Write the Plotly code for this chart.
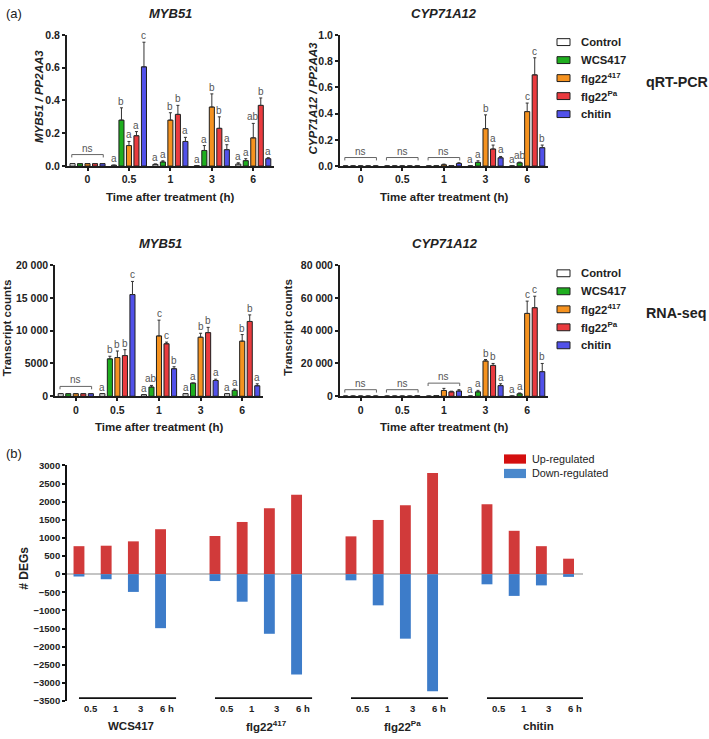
import plotly.graph_objects as go

W, H = 709, 739
FONT = "Liberation Sans, Arial, sans-serif"
DARK = "#1e1e1e"

# ---------------- data: panel (a) ----------------
times = ["0", "0.5", "1", "3", "6"]
series_names = ["Control", "WCS417", "flg22<sup>417</sup>", "flg22<sup>Pa</sup>", "chitin"]
series_colors = ["#ffffff", "#1fae1f", "#f5921f", "#ea3b3f", "#5151e9"]

# qRT-PCR, MYB51 / PP2AA3 (rows = series, cols = time points)
myb51_qpcr_mean = [
    [0.015, 0.005, 0.010, 0.002, 0.012],
    [0.015, 0.280, 0.025, 0.095, 0.033],
    [0.015, 0.125, 0.280, 0.360, 0.172],
    [0.015, 0.185, 0.315, 0.230, 0.370],
    [0.015, 0.605, 0.150, 0.100, 0.045],
]
myb51_qpcr_err = [
    [0, 0, 0.003, 0, 0.008],
    [0, 0.075, 0.007, 0.030, 0.012],
    [0, 0.025, 0.045, 0.080, 0.088],
    [0, 0.025, 0.055, 0.070, 0.045],
    [0, 0.150, 0.025, 0.030, 0.006],
]
myb51_qpcr_letters = [
    ["", "a", "a", "a", "a"],
    ["", "b", "a", "a", "a"],
    ["", "a", "b", "b", "ab"],
    ["", "a", "b", "b", "b"],
    ["", "c", "a", "a", "a"],
]
myb51_qpcr_ticks = [0, 0.2, 0.4, 0.6, 0.8]
myb51_qpcr_ticktext = ["0.0", "0.2", "0.4", "0.6", "0.8"]
myb51_qpcr_ns = [(0, 0.07)]

# qRT-PCR, CYP71A12 / PP2AA3
cyp_qpcr_mean = [
    [0.001, 0.001, 0.001, 0.001, 0.001],
    [0.001, 0.001, 0.002, 0.028, 0.025],
    [0.001, 0.001, 0.010, 0.285, 0.415],
    [0.001, 0.001, 0.003, 0.130, 0.695],
    [0.001, 0.001, 0.020, 0.063, 0.140],
]
cyp_qpcr_err = [
    [0, 0, 0, 0, 0],
    [0, 0, 0, 0.012, 0.005],
    [0, 0, 0.005, 0.105, 0.065],
    [0, 0, 0, 0.030, 0.130],
    [0, 0, 0.005, 0.010, 0.020],
]
cyp_qpcr_letters = [
    ["", "", "", "a", "a"],
    ["", "", "", "a", "ab"],
    ["", "", "", "b", "c"],
    ["", "", "", "a", "c"],
    ["", "", "", "a", "b"],
]
cyp_qpcr_ticks = [0, 0.2, 0.4, 0.6, 0.8, 1.0]
cyp_qpcr_ticktext = ["0.0", "0.2", "0.4", "0.6", "0.8", "1.0"]
cyp_qpcr_ns = [(0, 0.065), (1, 0.065), (2, 0.065)]

# RNA-seq, MYB51 transcript counts
myb51_rna_mean = [
    [400, 400, 250, 400, 400],
    [400, 5700, 1400, 2000, 900],
    [400, 5900, 9200, 9000, 8400],
    [400, 6200, 8000, 9700, 11400],
    [400, 15500, 4200, 2400, 1600],
]
myb51_rna_err = [
    [0, 0, 0, 0, 0],
    [0, 400, 250, 0, 200],
    [0, 1000, 2400, 600, 1000],
    [0, 900, 250, 800, 1000],
    [0, 2000, 300, 200, 300],
]
myb51_rna_letters = [
    ["", "a", "a", "a", "a"],
    ["", "b", "ab", "a", "a"],
    ["", "b", "c", "b", "b"],
    ["", "b", "c", "b", "b"],
    ["", "c", "b", "a", "a"],
]
myb51_rna_ticks = [0, 5000, 10000, 15000, 20000]
myb51_rna_ticktext = ["0", "5000", "10 000", "15 000", "20 000"]
myb51_rna_ns = [(0, 1500)]

# RNA-seq, CYP71A12 transcript counts
cyp_rna_mean = [
    [100, 100, 100, 100, 100],
    [100, 100, 400, 2700, 1500],
    [100, 100, 3500, 21500, 50500],
    [100, 100, 2700, 18800, 54000],
    [100, 300, 3200, 6500, 15000],
]
cyp_rna_err = [
    [0, 0, 0, 0, 0],
    [0, 0, 0, 900, 500],
    [0, 0, 1300, 900, 7500],
    [0, 0, 400, 1200, 7000],
    [0, 0, 800, 1100, 5000],
]
cyp_rna_letters = [
    ["", "", "", "a", "a"],
    ["", "", "", "a", "a"],
    ["", "", "", "b", "c"],
    ["", "", "", "b", "c"],
    ["", "", "", "a", "b"],
]
cyp_rna_ticks = [0, 20000, 40000, 60000, 80000]
cyp_rna_ticktext = ["0", "20 000", "40 000", "60 000", "80 000"]
cyp_rna_ns = [(0, 4000), (1, 4000), (2, 8000)]

# ---------------- data: panel (b) ----------------
b_treatments = ["WCS417", "flg22<sup>417</sup>", "flg22<sup>Pa</sup>", "chitin"]
b_times = ["0.5", "1", "3", "6 h"]
b_up = [
    [772, 785, 905, 1240],
    [1052, 1440, 1820, 2193],
    [1043, 1495, 1900, 2790],
    [1928, 1196, 772, 427],
]
b_down = [
    [-65, -140, -490, -1490],
    [-190, -760, -1645, -2770],
    [-170, -860, -1780, -3230],
    [-280, -600, -310, -75],
]
b_series = ["Up-regulated", "Down-regulated"]
b_colors = ["#d13a3a", "#3d7cc9"]
b_legend_colors = ["#d40f0f", "#4a88cc"]


def px(x):
    return x / W


def py(y):
    return 1 - y / H


def paper_text(x, y, text, size, xanchor="center", yanchor="middle", angle=0, color="#222222"):
    return dict(x=px(x), y=py(y), xref="paper", yref="paper", text=text, showarrow=False,
                xanchor=xanchor, yanchor=yanchor, textangle=angle,
                font=dict(family=FONT, size=size, color=color))


fig = go.Figure()
annotations = []
shapes = []

panels = [
    dict(mean=myb51_qpcr_mean, err=myb51_qpcr_err, letters=myb51_qpcr_letters,
         ticks=myb51_qpcr_ticks, ticktext=myb51_qpcr_ticktext, ns=myb51_qpcr_ns,
         xdom=(66.8, 274.0), ydom=(29.3, 162.7), ymax=0.8,
         title="MYB51", tx=170, ty=8,
         ytitle="MYB51 / PP2AA3", ytx=38.5, yty=92, italic=True, xtx=170, xty=194),
    dict(mean=cyp_qpcr_mean, err=cyp_qpcr_err, letters=cyp_qpcr_letters,
         ticks=cyp_qpcr_ticks, ticktext=cyp_qpcr_ticktext, ns=cyp_qpcr_ns,
         xdom=(339.8, 548.0), ydom=(29.3, 162.7), ymax=1.0,
         title="CYP71A12", tx=444, ty=8,
         ytitle="CYP71A12 / PP2AA3", ytx=313, yty=94, italic=True, xtx=444, xty=194),
    dict(mean=myb51_rna_mean, err=myb51_rna_err, letters=myb51_rna_letters,
         ticks=myb51_rna_ticks, ticktext=myb51_rna_ticktext, ns=myb51_rna_ns,
         xdom=(55.0, 263.0), ydom=(263.3, 396.7), ymax=20000,
         title="MYB51", tx=160, ty=241,
         ytitle="Transcript counts", ytx=6.5, yty=327, italic=False, xtx=159, xty=428),
    dict(mean=cyp_rna_mean, err=cyp_rna_err, letters=cyp_rna_letters,
         ticks=cyp_rna_ticks, ticktext=cyp_rna_ticktext, ns=cyp_rna_ns,
         xdom=(339.8, 548.0), ydom=(263.3, 396.7), ymax=80000,
         title="CYP71A12", tx=445, ty=241,
         ytitle="Transcript counts", ytx=288, yty=327, italic=False, xtx=444, xty=428),
]

n_series = len(series_names)
pitch = 0.181
bw = 0.122
idx = list(range(len(times)))

layout_axes = {}
for p, pan in enumerate(panels):
    k = p + 1
    xa = "x" if k == 1 else f"x{k}"
    ya = "y" if k == 1 else f"y{k}"
    for i in range(n_series):
        off = (i - (n_series - 1) / 2) * pitch
        errs = [e if e > 0 else None for e in pan["err"][i]]
        fig.add_trace(go.Bar(
            x=idx, y=pan["mean"][i], width=bw, offset=off - bw / 2,
            marker=dict(color=series_colors[i], line=dict(color=DARK, width=1)),
            error_y=dict(type="data", symmetric=False, array=errs,
                         arrayminus=[0] * len(idx), color="#333333",
                         thickness=1, width=1.5),
            xaxis=xa, yaxis=ya, showlegend=False, name=series_names[i],
        ))
        for j, lab in enumerate(pan["letters"][i]):
            if not lab:
                continue
            top = pan["mean"][i][j] + pan["err"][i][j]
            annotations.append(dict(
                x=j + off, y=top, xref=xa, yref=ya, text=lab, showarrow=False,
                yanchor="bottom", xanchor="center", yshift=-1,
                font=dict(family=FONT, size=10, color="#555555")))
    # ns brackets
    drop = 0.022 * pan["ymax"]
    for g, lvl in pan["ns"]:
        x0, x1 = g - 0.38, g + 0.38
        shapes.append(dict(type="path", xref=xa, yref=ya,
                           path=f"M {x0},{lvl - drop} L {x0},{lvl} L {x1},{lvl} L {x1},{lvl - drop}",
                           line=dict(color="#666666", width=1)))
        annotations.append(dict(x=g, y=lvl, xref=xa, yref=ya, text="ns", showarrow=False,
                                yanchor="bottom", xanchor="center", yshift=-1,
                                font=dict(family=FONT, size=10, color="#555555")))
    axis_common = dict(showline=True, linecolor=DARK, linewidth=1.5, ticks="outside",
                       ticklen=3, tickwidth=1.5, tickcolor=DARK, showgrid=False,
                       zeroline=False, fixedrange=True,
                       tickfont=dict(family=FONT, size=10.5, color="#222222", weight="bold"))
    layout_axes["xaxis" if k == 1 else f"xaxis{k}"] = dict(
        domain=[px(pan["xdom"][0]), px(pan["xdom"][1])], range=[-0.5, 4.5],
        anchor=ya, tickvals=idx, ticktext=times, **axis_common)
    layout_axes["yaxis" if k == 1 else f"yaxis{k}"] = dict(
        domain=[py(pan["ydom"][1]), py(pan["ydom"][0])], range=[0, pan["ymax"]],
        anchor=xa, tickvals=pan["ticks"], ticktext=pan["ticktext"], **axis_common)
    # titles
    annotations.append(paper_text(pan["tx"], pan["ty"], f"<b><i>{pan['title']}</i></b>", 13))
    yt = f"<b><i>{pan['ytitle']}</i></b>" if pan["italic"] else f"<b>{pan['ytitle']}</b>"
    annotations.append(paper_text(pan["ytx"], pan["yty"], yt, 11.5, angle=-90))
    annotations.append(paper_text(pan["xtx"], pan["xty"], "<b>Time after treatment (h)</b>", 11.5))

# legends for panel (a)
for top_y, tag in [(36.7, "qRT-PCR"), (271.7, "RNA-seq")]:
    for i, name in enumerate(series_names):
        cy = top_y + i * 18.3
        shapes.append(dict(type="rect", xref="paper", yref="paper",
                           x0=px(557), x1=px(570), y0=py(cy + 3.5), y1=py(cy - 3.5),
                           fillcolor=series_colors[i], line=dict(color=DARK, width=1)))
        annotations.append(paper_text(579, cy, f"<b>{name}</b>", 11.3, xanchor="left"))
    annotations.append(paper_text(644, top_y + 2 * 18.3 + 4, f"<b>{tag}</b>", 14.3, xanchor="left"))

# ---------------- panel (b) ----------------
bx = []
bu = []
bd = []
for g in range(len(b_treatments)):
    for t in range(len(b_times)):
        bx.append(g * (len(b_times) + 1) + t)
        bu.append(b_up[g][t])
        bd.append(b_down[g][t])

for vals, col, nm in [(bu, b_colors[0], b_series[0]), (bd, b_colors[1], b_series[1])]:
    fig.add_trace(go.Bar(x=bx, y=vals, width=0.4, offset=-0.2,
                         marker=dict(color=col, line=dict(width=0)),
                         xaxis="x5", yaxis="y5", showlegend=False, name=nm))

layout_axes["xaxis5"] = dict(domain=[px(67), px(583)], range=[-0.44, 18.53], anchor="y5",
                             showline=False, showticklabels=False, ticks="",
                             showgrid=False, zeroline=False, fixedrange=True)
layout_axes["yaxis5"] = dict(domain=[py(706.5), py(467)], range=[-3500, 3000], anchor="x5",
                             tickvals=list(range(-3500, 3001, 500)), showline=True,
                             linecolor="#111111", linewidth=1.8, ticks="outside", ticklen=3,
                             tickwidth=1.5, tickcolor="#111111", showgrid=False,
                             zeroline=True, zerolinecolor="#c4c4c4", zerolinewidth=1.5,
                             fixedrange=True,
                             tickfont=dict(family=FONT, size=9.5, color="#222222", weight="bold"))

tlab_off = [0.43, 1.35, 2.25, 3.22]
for g, name in enumerate(b_treatments):
    base = g * (len(b_times) + 1)
    shapes.append(dict(type="line", xref="x5", yref="paper", x0=base, x1=base + 3.57,
                       y0=py(703.5), y1=py(703.5), line=dict(color="#111111", width=1.6)))
    for t, lab in enumerate(b_times):
        annotations.append(dict(x=base + tlab_off[t], y=py(714), xref="x5", yref="paper",
                                text=f"<b>{lab}</b>", showarrow=False,
                                xanchor="center", yanchor="middle",
                                font=dict(family=FONT, size=9.5, color="#222222")))
    annotations.append(dict(x=base + 1.9, y=py(731.5), xref="x5", yref="paper",
                            text=f"<b>{name}</b>", showarrow=False,
                            xanchor="center", yanchor="middle",
                            font=dict(family=FONT, size=11.5, color="#222222")))

# legend for panel (b)
for i, nm in enumerate(b_series):
    cy = 460.5 + i * 14.7
    shapes.append(dict(type="rect", xref="paper", yref="paper", x0=px(504), x1=px(526),
                       y0=py(cy + 4.7), y1=py(cy - 4.7), fillcolor=b_legend_colors[i],
                       line=dict(width=0)))
    annotations.append(paper_text(530, cy, nm, 10.8, xanchor="left"))

annotations.append(paper_text(24, 572, "<b># DEGs</b>", 12, angle=-90))

# panel letters
annotations.append(paper_text(4, 8, "(a)", 13, xanchor="left"))
annotations.append(paper_text(4, 455, "(b)", 13, xanchor="left"))

fig.update_layout(
    width=W, height=H, margin=dict(l=0, r=0, t=0, b=0),
    paper_bgcolor="white", plot_bgcolor="white",
    barmode="overlay", showlegend=False,
    annotations=annotations, shapes=shapes,
    font=dict(family=FONT, color="#222222"),
    **layout_axes,
)

fig.write_html("out.html", config={"displayModeBar": False},
               post_script="document.body.style.margin='0';")
